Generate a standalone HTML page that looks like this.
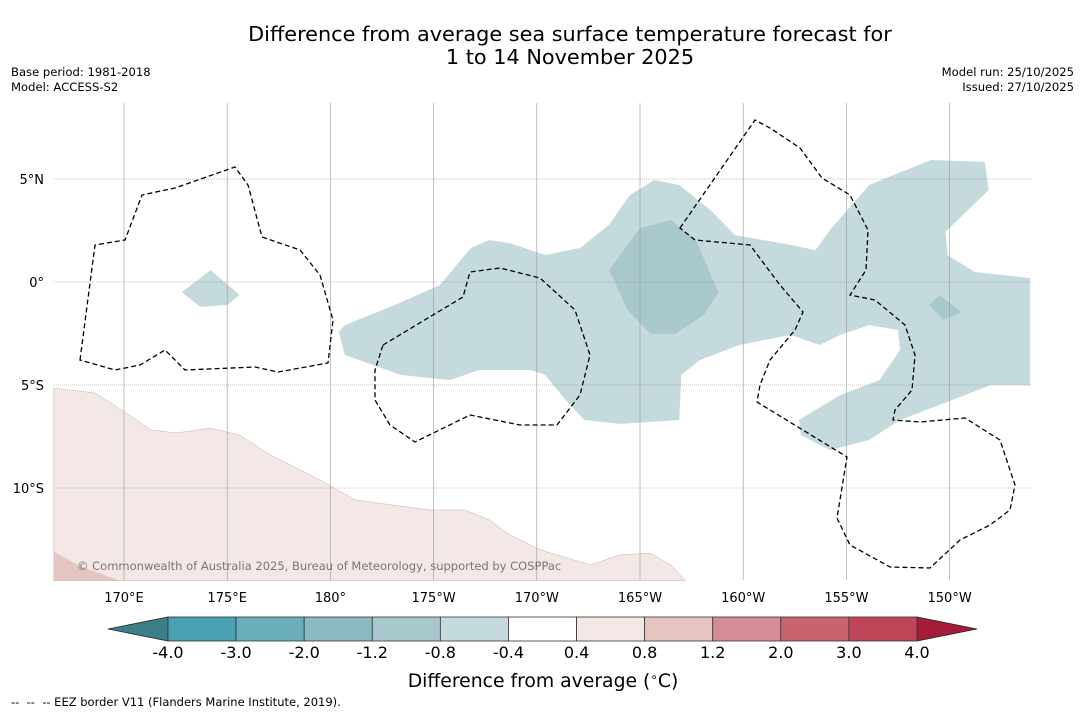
<!DOCTYPE html>
<html><head><meta charset="utf-8"><style>
body{margin:0;background:#fff;font-family:"DejaVu Sans","Liberation Sans",sans-serif;}
svg{display:block}
</style></head><body>
<svg id="chart" width="1085" height="713" viewBox="0 0 1085 713" xmlns="http://www.w3.org/2000/svg" font-family="DejaVu Sans, Liberation Sans, sans-serif">
<rect width="1085" height="713" fill="#fff"/>
<text x="570" y="41" font-size="20.8" text-anchor="middle">Difference from average sea surface temperature forecast for</text>
<text x="570" y="64" font-size="20.8" text-anchor="middle">1 to 14 November 2025</text>
<text x="11" y="76" font-size="11.6">Base period: 1981-2018</text>
<text x="11" y="91" font-size="11.6">Model: ACCESS-S2</text>
<text x="1074" y="76" font-size="11.6" text-anchor="end">Model run: 25/10/2025</text>
<text x="1074" y="91" font-size="11.6" text-anchor="end">Issued: 27/10/2025</text>
<g id="map"></g>
<g fill="none" stroke="#000" stroke-width="1.3" stroke-dasharray="5,3">
<path d="M80,360 L95,245 L125,240 L142,195 L175,188 L235,167 L248,185 L262,237 L300,250 L320,275 L333,320 L328,363 L278,372 L255,367 L185,370 L165,350 L140,365 L115,370 Z"/>
<path d="M383,345 L463,297 L470,272 L500,268 L540,278 L575,310 L590,355 L580,395 L557,425 L520,425 L470,415 L415,442 L390,425 L375,400 L375,370 Z"/>
<path d="M680,228 L755,120 L770,128 L800,148 L822,178 L850,195 L868,230 L866,270 L850,295 L875,300 L905,325 L915,355 L912,390 L895,410 L893,420 L920,422 L965,418 L1000,440 L1015,485 L1010,510 L990,525 L960,540 L930,568 L890,567 L850,545 L837,518 L847,457 L757,402 L760,385 L770,360 L795,330 L803,312 L780,285 L750,245 L695,240 Z"/>
</g>
<text x="77" y="570" font-size="11.5" fill="#777">© Commonwealth of Australia 2025, Bureau of Meteorology, supported by COSPPac</text>
<g id="colorbar"></g>
<text x="543" y="687" font-size="18.8" text-anchor="middle">Difference from average (<tspan font-size="12" dy="-6">∘</tspan><tspan dy="6">C)</tspan></text>
<text x="11" y="706" font-size="11.5" xml:space="preserve">--  --  -- EEZ border V11 (Flanders Marine Institute, 2019).</text>
</svg>
<script>
const NS="http://www.w3.org/2000/svg";
// map data (geo coordinates, lon 0-360, lat)
const lonTicks=[170,175,180,185,190,195,200,205,210];
const lonLabels=["170°E","175°E","180°","175°W","170°W","165°W","160°W","155°W","150°W"];
const latTicks=[5,0,-5,-10];
const latLabels=["5°N","0°","5°S","10°S"];
const anomLevelA=[[180.4,-2.43],[180.7,-2.09],[183.1,-1.12],[185.3,-0.15],[186.8,1.65],[187.7,2.04],[188.7,1.89],[190.4,1.31],[192.1,1.65],[193.5,2.77],[194.5,4.22],[195.7,4.95],[196.9,4.71],[198.4,3.5],[199.6,2.28],[202.3,1.8],[203.5,1.55],[204.2,2.52],[206.1,4.71],[209.1,5.92],[211.7,5.83],[211.9,4.47],[209.8,2.43],[209.9,1.31],[211.2,0.49],[213.9,0.19],[213.9,-5.0],[212.0,-5.0],[209.5,-5.97],[207.6,-6.7],[206.1,-7.67],[204.2,-8.16],[202.8,-7.43],[202.7,-6.7],[204.7,-5.49],[206.6,-4.76],[207.6,-3.3],[207.5,-2.33],[206.1,-2.09],[204.7,-2.57],[203.7,-3.06],[202.3,-2.57],[199.8,-3.06],[197.9,-3.79],[197.0,-4.51],[196.9,-6.7],[194.0,-6.89],[192.3,-6.7],[191.4,-5.73],[190.4,-4.51],[189.7,-4.27],[187.2,-4.27],[185.8,-4.76],[183.4,-4.51],[180.7,-3.54]];
const anomLevelA2=[[172.8,-0.49],[174.2,0.58],[175.6,-0.63],[175.0,-1.12],[173.7,-1.21]];
const anomLevelB=[[193.5,0.58],[195.0,2.62],[196.5,3.01],[197.7,2.04],[198.8,-0.49],[198.1,-1.6],[196.7,-2.52],[195.5,-2.52],[194.4,-1.36]];
const anomLevelB2=[[209.0,-1.12],[209.5,-0.63],[210.6,-1.46],[209.7,-1.84]];
const anomWarmA=[[166.6,-5.15],[168.6,-5.39],[170.05,-6.31],[171.3,-7.18],[172.5,-7.33],[174.2,-7.09],[175.6,-7.43],[177.1,-8.4],[179.5,-9.61],[181.2,-10.58],[184.8,-11.07],[186.5,-11.07],[187.7,-11.55],[188.7,-12.28],[190.2,-13.01],[192.6,-13.74],[194.0,-13.25],[195.5,-13.16],[196.5,-13.74],[197.2,-14.5],[166.6,-14.5]];
const anomWarmB=[[166.6,-13.1],[167.9,-13.8],[169.8,-14.5],[166.6,-14.5]];
// colorbar data
const cbBounds=[-4.0,-3.0,-2.0,-1.2,-0.8,-0.4,0.4,0.8,1.2,2.0,3.0,4.0];
const cbLabels=["-4.0","-3.0","-2.0","-1.2","-0.8","-0.4","0.4","0.8","1.2","2.0","3.0","4.0"];
const cbColors=["#48a0b0","#6aaeba","#8ab9c1","#a9c8cd","#c5dadd","#ffffff","#f3e8e6","#e5c5c0","#d48d95","#c86470","#be4658"];

const X0=54,X1=1031,Y0=103,Y1=580;
const px=lon=>124+(lon-170)*20.64;
const py=lat=>282-lat*20.6;
const map=document.getElementById('map');
function poly(pts,fill,name,stroke){
  const p=document.createElementNS(NS,'polygon');
  p.setAttribute('points',pts.map(d=>px(d[0]).toFixed(1)+','+py(d[1]).toFixed(1)).join(' '));
  p.setAttribute('fill',fill);
  if(stroke){p.setAttribute('stroke',stroke);p.setAttribute('stroke-width','0.5');}
  
  
  map.appendChild(p);
}
poly(anomWarmA,"#f3e8e6","warm-anomaly-region","#c9b0ac");
poly(anomWarmB,"#e5c5c0","warm-anomaly-region-strong");
poly(anomLevelA,"#c5dadd","cool-anomaly-region");
poly(anomLevelA2,"#c5dadd","cool-anomaly-region-west");
poly(anomLevelB,"#a9c8cd","cool-anomaly-core");
poly(anomLevelB2,"#a9c8cd","cool-anomaly-core-east");
lonTicks.forEach((lon,i)=>{
  const l=document.createElementNS(NS,'line');
  l.setAttribute('x1',px(lon));l.setAttribute('x2',px(lon));l.setAttribute('y1',Y0);l.setAttribute('y2',Y1);
  l.setAttribute('stroke','#999');l.setAttribute('stroke-width','0.6');
  
  
  map.appendChild(l);
  const t=document.createElementNS(NS,'text');
  t.setAttribute('x',px(lon));t.setAttribute('y',602);t.setAttribute('font-size','13');t.setAttribute('text-anchor','middle');
  t.textContent=lonLabels[i];
  
  
  map.appendChild(t);
});
latTicks.forEach((lat,i)=>{
  const l=document.createElementNS(NS,'line');
  l.setAttribute('x1',X0);l.setAttribute('x2',X1);l.setAttribute('y1',py(lat));l.setAttribute('y2',py(lat));
  l.setAttribute('stroke','#888');l.setAttribute('stroke-width','0.6');l.setAttribute('stroke-dasharray','1,1');
  
  
  map.appendChild(l);
  const t=document.createElementNS(NS,'text');
  t.setAttribute('x',44);t.setAttribute('y',py(lat)+5);t.setAttribute('font-size','13');t.setAttribute('text-anchor','end');
  t.textContent=latLabels[i];
  
  
  map.appendChild(t);
});
// colorbar
const cb=document.getElementById('colorbar');
const cbX0=168,cbX1=917,cbY=617,cbH=24,n=cbColors.length,w=(cbX1-cbX0)/n;
const cx=i=>cbX0+i*w;
const lt=document.createElementNS(NS,'polygon');
lt.setAttribute('points',`108,${cbY+cbH/2} ${cbX0},${cbY} ${cbX0},${cbY+cbH}`);
lt.setAttribute('fill','#3d7f88');lt.setAttribute('stroke','#222');lt.setAttribute('stroke-width','0.8');


cb.appendChild(lt);
const rt=document.createElementNS(NS,'polygon');
rt.setAttribute('points',`977,${cbY+cbH/2} ${cbX1},${cbY} ${cbX1},${cbY+cbH}`);
rt.setAttribute('fill','#a51c3a');rt.setAttribute('stroke','#222');rt.setAttribute('stroke-width','0.8');


cb.appendChild(rt);
cbColors.forEach((c,i)=>{
  const r=document.createElementNS(NS,'rect');
  r.setAttribute('x',cx(i));r.setAttribute('y',cbY);r.setAttribute('width',w);r.setAttribute('height',cbH);
  r.setAttribute('fill',c);r.setAttribute('stroke','#333');r.setAttribute('stroke-width','0.8');
  
  
  cb.appendChild(r);
});
cbBounds.forEach((v,i)=>{
  const t=document.createElementNS(NS,'text');
  t.setAttribute('x',cx(i));t.setAttribute('y',658);t.setAttribute('font-size','16');t.setAttribute('text-anchor','middle');
  t.textContent=cbLabels[i];
  
  
  cb.appendChild(t);
});
</script>
</body></html>
